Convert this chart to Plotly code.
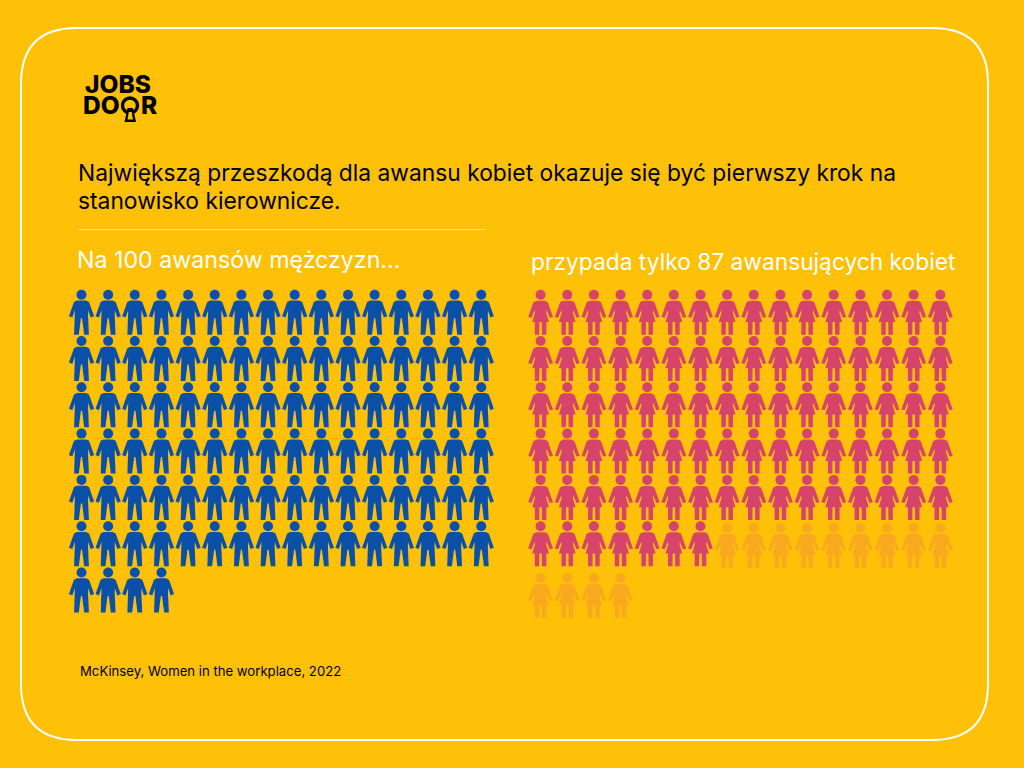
import plotly.graph_objects as go

# ---- data ----
groups = ["Mężczyźni", "Kobiety"]
promotions = [100, 87]
base_per_100 = 100
icons_per_row = 16
title_lines = ["Największą przeszkodą dla awansu kobiet okazuje się być pierwszy krok na", "stanowisko kierownicze."]
men_label = "Na 100 awansów mężczyzn..."
women_label = "przypada tylko 87 awansujących kobiet"
source_text = "McKinsey, Women in the workplace, 2022"

# ---- style / layout ----
BG = "#FFC107"
BLUE = "#0A4FA8"
PINK = "#D6436B"
GHOST = "#F9A91E"
FONT = "Inter"
STEP_X = 26.65
STEP_Y = 46.3
MEN_X0, WOMEN_X0, HEAD_Y0 = 81.5, 540.6, 294.7

half_man = [(0, 5.8), (4.5, 5.8), (7.5, 7.2), (12.6, 21.5), (9.2, 22.9), (6.6, 15.5), (6.6, 22), (7.4, 40), (2.7, 40), (0.6, 23.5)]
half_woman = [(0, 6), (4, 6), (7.2, 7.6), (12.4, 22.3), (9.2, 23), (6, 15.5), (5.6, 18), (8.4, 27.3), (5.8, 27.3), (5.8, 40), (1.4, 40), (1.2, 27.3)]


def outline(half):
    return half + [(-x, y) for x, y in reversed(half[1:])] + [half[0]]


def slots(x0, start, stop, ghost=False):
    pts = []
    for i in range(start, stop):
        row, col = divmod(i, icons_per_row)
        dy = 0
        if ghost:
            dy = 1.5 if row == 5 else 5.5
        pts.append((x0 + col * STEP_X, HEAD_Y0 + row * STEP_Y + dy))
    return pts


def add_icons(fig, pts, half, color, name):
    shape = outline(half)
    xs, ys = [], []
    for cx, cy in pts:
        xs += [cx + dx for dx, _ in shape] + [None]
        ys += [cy + dy for _, dy in shape] + [None]
    fig.add_trace(go.Scatter(x=xs, y=ys, mode="lines", fill="toself", fillcolor=color,
                             line=dict(width=0, color=color), name=name, hoverinfo="skip", showlegend=False))
    fig.add_trace(go.Scatter(x=[p[0] for p in pts], y=[p[1] for p in pts], mode="markers",
                             marker=dict(size=10, color=color, line=dict(width=0)),
                             name=name, hoverinfo="skip", showlegend=False))


fig = go.Figure()
add_icons(fig, slots(MEN_X0, 0, promotions[0]), half_man, BLUE, groups[0])
add_icons(fig, slots(WOMEN_X0, promotions[1], base_per_100, True), half_woman, GHOST, "Brakujące")
add_icons(fig, slots(WOMEN_X0, 0, promotions[1]), half_woman, PINK, groups[1])


def label(x, y, text, size, color="black", anchor="left", family=FONT, weight=None):
    fig.add_annotation(x=x, y=y, text=text, showarrow=False, xanchor=anchor, yanchor="middle", align="left",
                       font=dict(family=family, size=size, color=color, weight=weight))


label(76, 172, title_lines[0], 22.8)
label(76, 200, title_lines[1], 22.8)
label(75, 260, men_label, 23.2, "white")
label(529, 261, women_label, 22.75, "white")
label(78, 671, source_text, 13.15)

# logo
label(83, 84, "JOBS", 24.5, weight=800)
label(81, 105, "DO", 24.5, weight=800)
label(139, 105, "R", 24.5, weight=800)
fig.add_trace(go.Scatter(x=[130], y=[105.5], mode="markers", hoverinfo="skip", showlegend=False,
                         marker=dict(size=15, color="rgba(0,0,0,0)", line=dict(width=3.4, color="black"))))
key = [(127.5, 108), (124.5, 122), (136, 122), (133, 108), (127.5, 108)]
fig.add_trace(go.Scatter(x=[p[0] for p in key], y=[p[1] for p in key], mode="lines", fill="toself", fillcolor="black",
                         line=dict(width=0), hoverinfo="skip", showlegend=False))
slot = [(128.8, 112), (127.5, 119.5), (133, 119.5), (131.7, 112), (128.8, 112)]
fig.add_trace(go.Scatter(x=[p[0] for p in slot], y=[p[1] for p in slot], mode="lines", fill="toself", fillcolor=BG,
                         line=dict(width=0), hoverinfo="skip", showlegend=False))

# frame + divider
L, T, R, B, r = 21, 28, 988, 740, 56
fig.add_shape(type="path", line=dict(color="white", width=2), layer="below",
              path=f"M{L + r},{T} L{R - r},{T} Q{R},{T} {R},{T + r} L{R},{B - r} Q{R},{B} {R - r},{B} "
                   f"L{L + r},{B} Q{L},{B} {L},{B - r} L{L},{T + r} Q{L},{T} {L + r},{T} Z")
fig.add_shape(type="line", x0=78, x1=486, y0=229.5, y1=229.5, line=dict(color="#FFE082", width=1), layer="below")

fig.update_layout(width=1024, height=768, margin=dict(l=0, r=0, t=0, b=0),
                  paper_bgcolor=BG, plot_bgcolor=BG, showlegend=False,
                  xaxis=dict(range=[0, 1024], visible=False, fixedrange=True),
                  yaxis=dict(range=[768, 0], visible=False, fixedrange=True))
fig.write_html("out.html", config={"displayModeBar": False},
               post_script="document.body.style.margin='0';document.documentElement.style.overflow='hidden';"
                           "document.body.style.background='%s';" % BG)
